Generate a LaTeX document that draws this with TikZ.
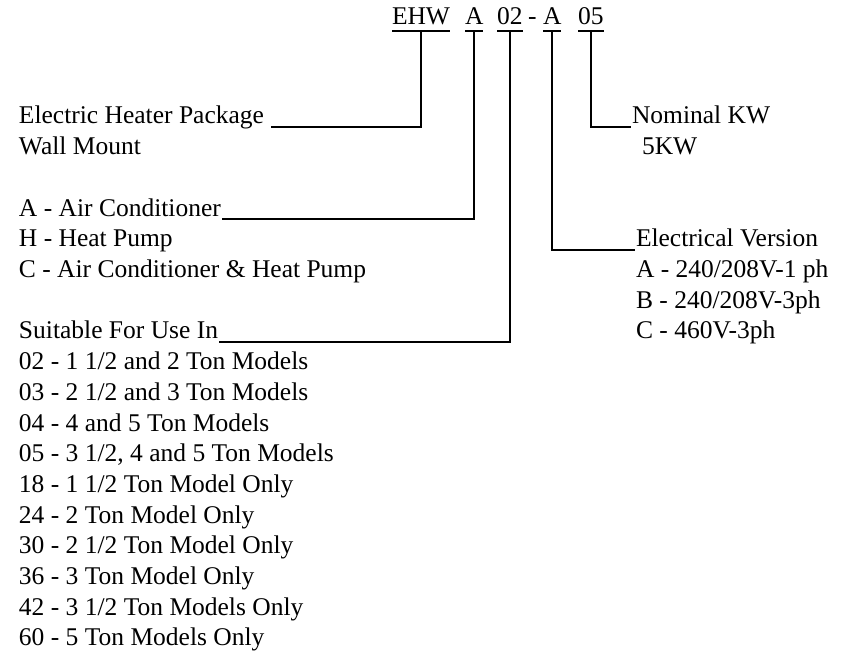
\documentclass[tikz,border=0pt]{standalone}
\usepackage{fontspec}
\setmainfont{Liberation Serif}
\usetikzlibrary{calc}
\tikzset{
  txt/.style={inner sep=0pt, outer sep=0pt, anchor=base west, font=\fontsize{25.5}{30.6}\selectfont},
  conn/.style={line width=1.6pt, draw=black},
}
\begin{document}
\begin{tikzpicture}[x=1pt,y=-1pt]
\useasboundingbox (0,0) rectangle (841,660);
% code line
\node[txt] (cehw) at (392,25) {EHW};
\node[txt] (ca1) at (465,25) {A};
\node[txt] (c02) at (497,25) {02};
\node[txt] (cdash) at (528,25) {-};
\node[txt] (ca2) at (543,25) {A};
\node[txt] (c05) at (578,25) {05};
\foreach \n in {cehw,ca1,c02,ca2,c05}{
  \draw[conn] ($(\n.base west)+(0,-6pt)$) -- ($(\n.base east)+(0,-6pt)$);
}
% left labels
\node[txt] (n0) at (19,124) {Electric Heater Package};
\node[txt] (n1) at (19,154.7) {Wall Mount};
\node[txt] (ac) at (19,216.1) {A - Air Conditioner};
\node[txt] (hp) at (19,246.8) {H - Heat Pump};
\node[txt] (ach) at (19,277.5) {C - Air Conditioner \& Heat Pump};
\node[txt] (su) at (19,338.9) {Suitable For Use In};
\node[txt] (m02) at (19,369.6) {02 - 1 1/2 and 2 Ton Models};
\node[txt] (m03) at (19,400.3) {03 - 2 1/2 and 3 Ton Models};
\node[txt] (m04) at (19,431.0) {04 - 4 and 5 Ton Models};
\node[txt] (m05) at (19,461.7) {05 - 3 1/2, 4 and 5 Ton Models};
\node[txt] (m18) at (19,492.4) {18 - 1 1/2 Ton Model Only};
\node[txt] (m24) at (19,523.1) {24 - 2 Ton Model Only};
\node[txt] (m30) at (19,553.8) {30 - 2 1/2 Ton Model Only};
\node[txt] (m36) at (19,584.5) {36 - 3 Ton Model Only};
\node[txt] (m42) at (19,615.2) {42 - 3 1/2 Ton Models Only};
\node[txt] (m60) at (19,645.9) {60 - 5 Ton Models Only};
% right labels
\node[txt] (nk) at (632,124) {Nominal KW};
\node[txt] (kw5) at (642,154.7) {5KW};
\node[txt] (ev) at (636,246.8) {Electrical Version};
\node[txt] (ea) at (636,277.5) {A - 240/208V-1 ph};
\node[txt] (eb) at (636,308.2) {B - 240/208V-3ph};
\node[txt] (ec) at (636,338.9) {C - 460V-3ph};
% connectors
\draw[conn] ($(cehw.base)+(0,-6pt)$) |- ($(n0.base east)+(7pt,-3pt)$);
\draw[conn] ($(ca1.base)+(0,-6pt)$) |- ($(ac.base east)+(1pt,-3pt)$);
\draw[conn] ($(c02.base)+(0,-6pt)$) |- ($(su.base east)+(1pt,-3pt)$);
\draw[conn] ($(ca2.base)+(0,-6pt)$) |- ($(ev.base west)+(-1pt,-3pt)$);
\draw[conn] ($(c05.base)+(0,-6pt)$) |- ($(nk.base west)+(-1pt,-3pt)$);
\end{tikzpicture}
\end{document}
